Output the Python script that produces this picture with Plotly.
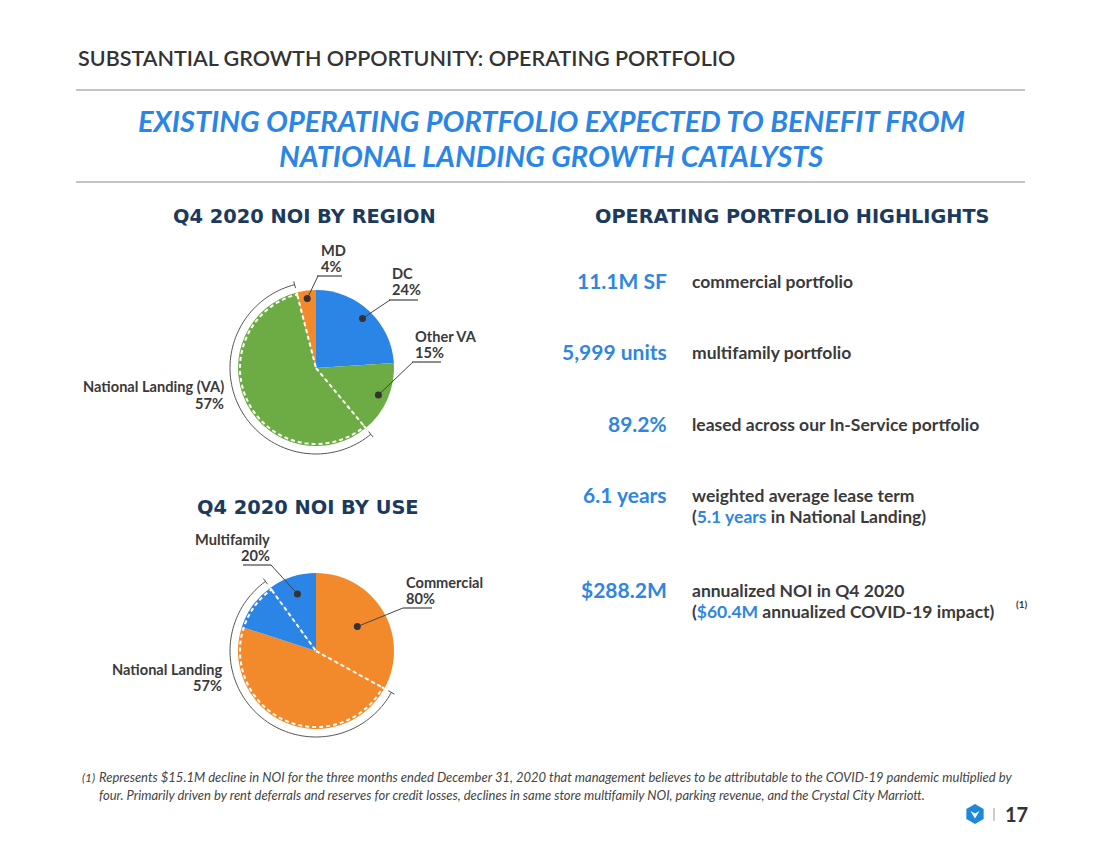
import math
import plotly.graph_objects as go

# ---------------- data ----------------
region_labels = ["DC", "Other VA", "National Landing (VA)", "MD"]
region_values = [24, 15, 57, 4]
region_nl_index = 2

use_labels = ["Commercial", "Multifamily"]
use_values = [80, 20]
use_nl_values = [47, 10]          # National Landing part inside each use
use_nl_label = "National Landing"
use_nl_total = 57

highlight_values = ["11.1M SF", "5,999 units", "89.2%", "6.1 years", "$288.2M"]
highlight_lines = [
    ["commercial portfolio"],
    ["multifamily portfolio"],
    ["leased across our In-Service portfolio"],
    ["weighted average lease term", "(<span style='color:#2E86DE'>5.1 years</span> in National Landing)"],
    ["annualized NOI in Q4 2020", "(<span style='color:#2E86DE'>$60.4M</span> annualized COVID-19 impact)"],
]

footnote_lines = [
    "Represents $15.1M decline in NOI for the three months ended December 31, 2020 that management believes to be attributable to the COVID-19 pandemic multiplied by",
    "four. Primarily driven by rent deferrals and reserves for credit losses, declines in same store multifamily NOI, parking revenue, and the Crystal City Marriott.",
]

# ---------------- style ----------------
W, H = 1100, 850
OFF = 8   # page body margin in the browser
BLUE = "#2B85E6"
GREEN = "#6DAB45"
ORANGE = "#F28A2B"
NAVY = "#1C3A5E"
TXT = "#3A3A3A"
HL = "#2E86DE"
FONT = "Lato"
HFONT = "DejaVu Sans"

region_colors = [BLUE, GREEN, GREEN, ORANGE]


def px(x):
    return (x - OFF) / W


def py(y):
    return 1 - (y - OFF) / H


def polar(cx, cy, r, deg):
    a = math.radians(deg)
    return cx + r * math.sin(a), cy - r * math.cos(a)


def pathstr(points):
    s = "M {:.5f},{:.5f}".format(px(points[0][0]), py(points[0][1]))
    for x, y in points[1:]:
        s += " L {:.5f},{:.5f}".format(px(x), py(y))
    return s


def arc_points(cx, cy, r, a0, a1, n=60):
    return [polar(cx, cy, r, a0 + (a1 - a0) * i / n) for i in range(n + 1)]


fig = go.Figure()
shapes = []
annotations = []


def add_pie(values, colors, cx, cy, r, name):
    fig.add_trace(go.Pie(
        values=values, labels=[f"{name}{i}" for i in range(len(values))],
        marker=dict(colors=colors, line=dict(width=0)),
        sort=False, direction="clockwise", rotation=0,
        textinfo="none", hoverinfo="skip", showlegend=False,
        domain=dict(x=[px(cx - r), px(cx + r)], y=[py(cy + r), py(cy - r)]),
    ))


def nl_outline(cx, cy, r, a0, a1):
    pts = [(cx, cy), polar(cx, cy, r, a0)] + arc_points(cx, cy, r - 2, a0, a1) + [polar(cx, cy, r, a1), (cx, cy)]
    shapes.append(dict(type="path", xref="paper", yref="paper", path=pathstr(pts),
                       line=dict(color="white", width=2, dash="4px,3px"), layer="above"))


def bracket(cx, cy, r, a0, a1):
    shapes.append(dict(type="path", xref="paper", yref="paper",
                       path=pathstr(arc_points(cx, cy, r, a0, a1, 90)),
                       line=dict(color="#555555", width=1), layer="above"))
    for a in (a0, a1):
        p0 = polar(cx, cy, r - 3.5, a)
        p1 = polar(cx, cy, r + 3.5, a)
        shapes.append(dict(type="path", xref="paper", yref="paper", path=pathstr([p0, p1]),
                           line=dict(color="#555555", width=1), layer="above"))


def leader(dot, corner, ux0, ux1):
    shapes.append(dict(type="path", xref="paper", yref="paper", path=pathstr([dot, corner]),
                       line=dict(color="#444444", width=1), layer="above"))
    shapes.append(dict(type="line", xref="paper", yref="paper", x0=px(ux0), x1=px(ux1),
                       y0=py(corner[1]), y1=py(corner[1]),
                       line=dict(color="#444444", width=1.2), layer="above"))
    d = 3.5
    shapes.append(dict(type="circle", xref="paper", yref="paper",
                       x0=px(dot[0] - d), x1=px(dot[0] + d), y0=py(dot[1] + d), y1=py(dot[1] - d),
                       fillcolor="#333333", line=dict(width=0), layer="above"))


def text(x, y, s, size=14.6, color=TXT, xanchor="left", weight=700, style="normal", family=FONT):
    annotations.append(dict(x=px(x), y=py(y), xref="paper", yref="paper", text=s,
                            showarrow=False, xanchor=xanchor, yanchor="middle",
                            font=dict(family=family, size=size, color=color, weight=weight, style=style)))


def label(x, y0, lines, xanchor="left", gap=16.3):
    for k, ln in enumerate(lines):
        text(x, y0 + k * gap, ln, xanchor=xanchor)


# ---------------- top pie: NOI by region ----------------
cx1, cy1, R = 316, 368, 78
add_pie(region_values, region_colors, cx1, cy1, R, "r")
tot = sum(region_values)
cum = [sum(region_values[:i]) / tot * 360 for i in range(len(region_values) + 1)]
mids = [(cum[i] + cum[i + 1]) / 2 for i in range(len(region_values))]
nl_outline(cx1, cy1, R, cum[region_nl_index], cum[region_nl_index + 1])
bracket(cx1, cy1, R + 8, cum[region_nl_index], cum[region_nl_index + 1])

leader(polar(cx1, cy1, 68, mids[0]), (390, 300), 389, 418)
label(390, 273.5, [region_labels[0], f"{region_values[0]}%"])
leader(polar(cx1, cy1, 68, mids[1]), (413, 362), 412, 441)
label(413, 336.5, [region_labels[1], f"{region_values[1]}%"])
leader(polar(cx1, cy1, 70, mids[3]), (318, 276), 317, 342)
label(319, 250.5, [region_labels[3], f"{region_values[3]}%"])
label(226, 387, [region_labels[2], f"{region_values[2]}%"], xanchor="right")

# ---------------- bottom pie: NOI by use ----------------
cx2, cy2 = 316, 651
use_slices = [use_values[0] - use_nl_values[0], use_nl_values[0],
              use_nl_values[1], use_values[1] - use_nl_values[1]]
use_colors = [ORANGE, ORANGE, BLUE, BLUE]
add_pie(use_slices, use_colors, cx2, cy2, R, "u")
tot2 = sum(use_slices)
cum2 = [sum(use_slices[:i]) / tot2 * 360 for i in range(len(use_slices) + 1)]
nl_outline(cx2, cy2, R, cum2[1], cum2[3])
bracket(cx2, cy2, R + 8, cum2[1], cum2[3])

leader(polar(cx2, cy2, 48, (cum2[0] + cum2[1]) / 2), (403, 608), 403, 432)
label(404, 582.5, [use_labels[0], f"{use_values[0]}%"])
leader(polar(cx2, cy2, 60, (cum2[3] + cum2[4]) / 2), (271, 565), 243, 271)
label(272, 539.5, [use_labels[1], f"{use_values[1]}%"], xanchor="right")
label(224, 669, [use_nl_label, f"{use_nl_total}%"], xanchor="right")

# ---------------- headers ----------------
text(76, 58, "SUBSTANTIAL GROWTH OPPORTUNITY: OPERATING PORTFOLIO", size=21.5, color="#333333",
     weight=600)
for yy in (90, 182):
    shapes.append(dict(type="line", xref="paper", yref="paper", x0=px(76), x1=px(1025),
                       y0=py(yy), y1=py(yy), line=dict(color="#8A8A8A", width=1.2)))
text(551, 120, "EXISTING OPERATING PORTFOLIO EXPECTED TO BENEFIT FROM",
     size=29, color="#2A86E6", xanchor="center", weight=700, style="italic")
text(551, 155, "NATIONAL LANDING GROWTH CATALYSTS",
     size=29, color="#2A86E6", xanchor="center", weight=700, style="italic")
text(304, 216, "Q4 2020 NOI BY REGION", size=19.4, color=NAVY, xanchor="center", family=HFONT)
text(308, 507, "Q4 2020 NOI BY USE", size=19.4, color=NAVY, xanchor="center", family=HFONT)
text(792, 216, "OPERATING PORTFOLIO HIGHLIGHTS", size=19.3, color=NAVY, xanchor="center", family=HFONT)

# ---------------- highlights ----------------
row_y = [280, 351, 423, 494, 589]
for v, lines, yy in zip(highlight_values, highlight_lines, row_y):
    text(669, yy, v, size=21, color=HL, xanchor="right", weight=700)
    for k, ln in enumerate(lines):
        text(690, yy + 1 + k * 21.5, ln, size=17.5, color=TXT, weight=700)
text(1014, 604, "(1)", size=10, color=TXT, weight=700)

# ---------------- footnote ----------------
text(80, 777, "(1)", size=12, color="#444444", weight=400, style="italic")
for k, ln in enumerate(footnote_lines):
    text(97, 777 + k * 18, ln, size=13, color="#444444", weight=400, style="italic")

# ---------------- page badge ----------------
hx, hy, hr = 975, 814, 10
hexpts = [(hx + hr * math.cos(math.radians(30 + 60 * i)), hy + hr * math.sin(math.radians(30 + 60 * i)))
          for i in range(7)]
shapes.append(dict(type="path", xref="paper", yref="paper", path=pathstr(hexpts) + " Z",
                   fillcolor="#1E88DA", line=dict(width=0)))
shapes.append(dict(type="path", xref="paper", yref="paper",
                   path=pathstr([(hx - 4.5, hy - 3), (hx, hy + 4.5), (hx + 4.5, hy - 3), (hx, hy - 0.5)]) + " Z",
                   fillcolor="white", line=dict(width=0)))
shapes.append(dict(type="line", xref="paper", yref="paper", x0=px(994), x1=px(994),
                   y0=py(808), y1=py(821), line=dict(color="#999999", width=1)))
text(1003, 814, "17", size=20, color="#333333", weight=700)

fig.update_layout(
    width=W, height=H, margin=dict(l=0, r=0, t=0, b=0),
    paper_bgcolor="white", plot_bgcolor="white",
    shapes=shapes, annotations=annotations, showlegend=False,
)
fig.write_html("out.html")
